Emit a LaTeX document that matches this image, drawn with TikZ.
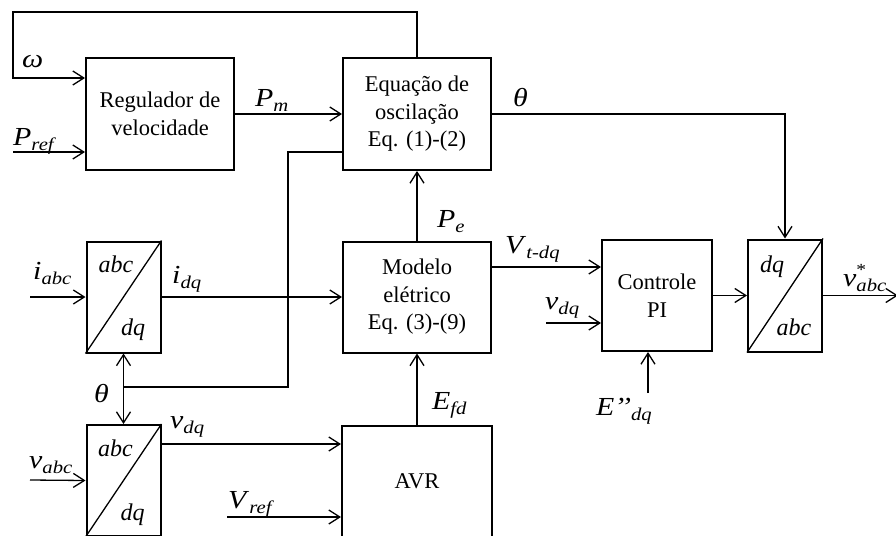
\documentclass[tikz,border=0pt]{standalone}
\usepackage{fontspec}
\setmainfont{Liberation Serif}
\newfontfamily\lblfont{Liberation Serif}[FakeStretch=1.15]
\usetikzlibrary{arrows.meta,calc}
\newcommand{\lab}[2]{\textit{#1}\raisebox{-5pt}{\fontsize{18}{18}\selectfont\textit{#2}}}
\begin{document}
\begin{tikzpicture}[x=1pt,y=-1pt,
  blk/.style={draw,line width=2pt,minimum width=148pt,minimum height=112pt,inner sep=0pt,align=center,font=\fontsize{22.5}{27.5}\selectfont},
  tbox/.style={draw,line width=2pt,minimum width=74pt,minimum height=111pt,inner sep=0pt},
  arr/.style={line width=1.3pt,-{Straight Barb[length=11pt,width=14pt,line width=1.3pt]}},
  ln/.style={line width=1.3pt},
  lbl/.style={anchor=base west,inner sep=0pt,font=\lblfont\fontsize{26}{30}\selectfont},
  tl/.style={anchor=base,inner sep=0pt,font=\fontsize{24}{28}\selectfont\itshape},
]
\useasboundingbox (0,0) rectangle (896,535);
\clip (0,0) rectangle (896,535);

% blocks
\node[blk] (reg) at (160,114) {Regulador de\\velocidade};
\node[blk] (eq) at (417,114) {Equação de\\oscilação\\Eq. (1)-(2)};
\node[blk,minimum height=111pt] (mod) at (417,297) {Modelo\\elétrico\\Eq. (3)-(9)};
\node[blk,minimum width=110pt,minimum height=111pt] (pi) at (657,295.5) {Controle\\PI};
\node[blk,minimum width=150pt,minimum height=111pt] (avr) at (417,481.5) {AVR};
\node[tbox] (t1) at (123.5,297) {};
\node[tbox] (t2) at (123.5,480.5) {};
\node[tbox,minimum height=112pt] (t3) at (785,295.5) {};

% diagonals and inner labels
\draw[ln] (t1.south west) -- (t1.north east);
\draw[ln] (t2.south west) -- (t2.north east);
\draw[ln] (t3.south west) -- (t3.north east);
\node[tl] (t1a) at (116,272) {abc};
\node[tl] (t1b) at (133,335) {dq};
\node[tl] (t2a) at (115.5,456) {abc};
\node[tl] (t2b) at (132.5,520) {dq};
\node[tl] (t3a) at (772,272) {dq};
\node[tl] (t3b) at (794,335) {abc};

% connectors
\coordinate (fbA) at (13,12);
\coordinate (fbB) at (13,78);
\draw[arr] (eq.north) |- (fbA) -- (fbB) -- (fbB -| reg.west);
\coordinate (pref) at (13,152);
\draw[arr] (pref) -- (pref -| reg.west);
\draw[arr] (reg.east) -- (eq.west);
\draw[arr] (eq.east) -| (t3.north);
\draw[arr] (mod.north) -- (eq.south);
\draw[arr] (avr.north) -- (mod.south);
\coordinate (iabc) at (30,297);
\draw[arr] (iabc) -- (t1.west);
\draw[arr] (t1.east) -- (mod.west);
\coordinate (thJ) at (123.5,387);
\draw[arr] (thJ) -- (t1.south);
\draw[arr] (thJ) -- (t2.north);
\coordinate (thB) at (288,387);
\coordinate (thC) at ($(eq.south west)+(0,-19)$);
\draw[ln] (thJ) -- (thB) |- (thC);
\coordinate (vabc) at (30,480);
\draw[arr] (vabc) -- (t2.west);
\coordinate (vdqA) at ($(t2.north east)+(0,20)$);
\draw[arr] (vdqA) -- (vdqA -| avr.west);
\coordinate (vref) at (227,517);
\draw[arr] (vref) -- (vref -| avr.west);
\coordinate (vtA) at ($(mod.north east)+(0,26.5)$);
\draw[arr] (vtA) -- (vtA -| pi.west);
\coordinate (vdqB) at (546,323);
\draw[arr] (vdqB) -- (vdqB -| pi.west);
\coordinate (epp) at (648,393);
\draw[arr] (epp) -- (epp |- pi.south);
\draw[arr] (pi.east) -- (t3.west);
\coordinate (vout) at (898,295.5);
\draw[arr] (t3.east) -- (vout);

% labels
\node[lbl] (lw) at (22,67) {\textit{ω}};
\node[lbl] (lpref) at (13,145) {\lab{P}{ref}};
\node[lbl] (lpm) at (255,106) {\lab{P}{m}};
\node[lbl] (lth1) at (513,106) {\textit{θ}};
\node[lbl] (lpe) at (437,227) {\lab{P}{e}};
\node[lbl] (lvt) at (505,253) {\lab{V}{t-dq}};
\node[lbl] (lvdq2) at (545,309) {\lab{v}{dq}};
\node[lbl] (lepp) at (596,415) {\lab{E’’}{dq}};
\node[lbl] (lvout) at (843,286) {\textit{v}\rlap{\raisebox{11pt}{\fontsize{17}{17}\selectfont *}}\raisebox{-5pt}{\fontsize{18}{18}\selectfont\textit{abc}}};
\node[lbl] (liabc) at (33,279) {\lab{i}{abc}};
\node[lbl] (lidq) at (172,283) {\lab{i}{dq}};
\node[lbl] (lth2) at (94,402) {\textit{θ}};
\node[lbl] (lvdq1) at (170,428) {\lab{v}{dq}};
\node[lbl] (lvabc) at (29,468) {\lab{v}{abc}};
\node[lbl] (lvref) at (228,508) {\lab{V}{ref}};
\node[lbl] (lefd) at (432,409) {\lab{E}{fd}};
\end{tikzpicture}
\end{document}
